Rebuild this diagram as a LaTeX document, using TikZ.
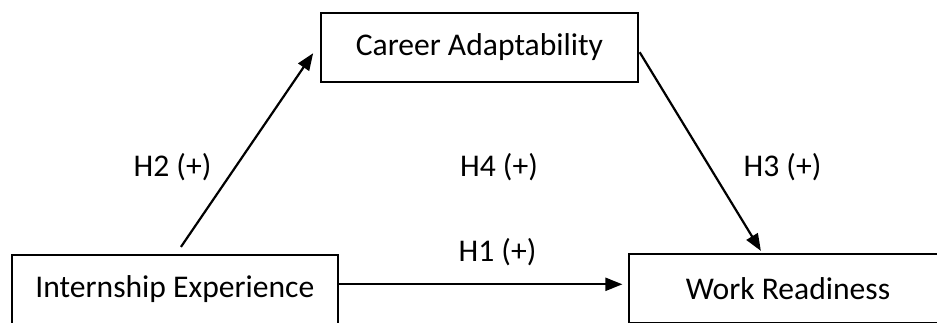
\documentclass[tikz,border=0pt]{standalone}
\usepackage{fontspec}
\setmainfont{Carlito}
\usetikzlibrary{arrows.meta,calc}
\begin{document}
\begin{tikzpicture}[x=1pt,y=-1pt,
  every node/.style={font=\fontsize{31.6}{38}\selectfont, text=black},
  boxnode/.style={draw=black, line width=2.2pt, rectangle, inner sep=0pt, minimum height=69pt},
  arr/.style={draw=black, line width=2.2pt, -{Triangle[length=17pt,width=13pt]}},
  lbl/.style={anchor=base, inner sep=0pt}]
\useasboundingbox (0,0) rectangle (937,322);
\fill[white] (0,0) rectangle (937,322);
\clip (0,0) rectangle (937,322);
\node[boxnode, minimum width=317.3pt] (ca) at (479.4,47.2) {Career Adaptability};
\node[boxnode, minimum width=326.3pt] (ie) at (174.9,289.5) {Internship Experience};
\node[boxnode, minimum width=318pt] (wr) at (788,288.5) {Work Readiness};
\draw[arr] ($(ie.north west)+(170.3,-7)$) -- ($(ca.west)+(-6.5,6)$);
\draw[arr] ($(ca.east)+(0.5,5)$) -- ($(wr.north west)+(133,-2)$);
\draw[arr] ($(ie.east)+(-2,-5.2)$) -- ($(wr.west)+(-5.5,-4.2)$);
\node[lbl] (h2) at (172.5,176.7) {H2 (+)};
\node[lbl] (h4) at (499,176.7) {H4 (+)};
\node[lbl] (h3) at (782.5,176.7) {H3 (+)};
\node[lbl] (h1) at (497.5,261.7) {H1 (+)};
\end{tikzpicture}
\end{document}
